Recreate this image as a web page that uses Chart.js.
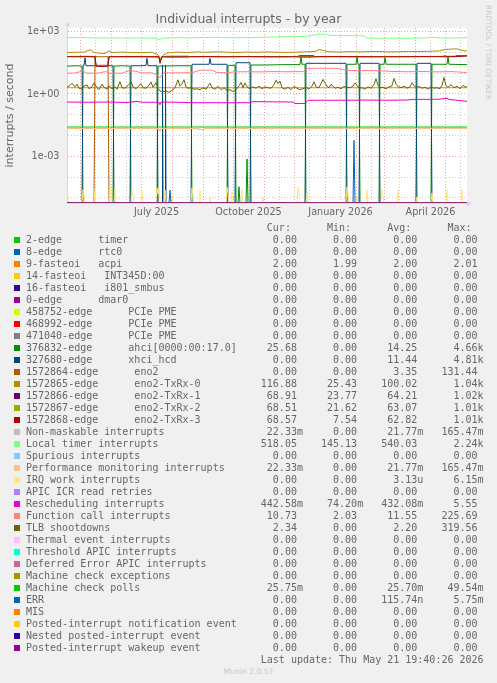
<!DOCTYPE html>
<html>
<head>
<meta charset="utf-8">
<title>Individual interrupts - by year</title>
<script src="https://cdn.jsdelivr.net/npm/chart.js@4.4.1/dist/chart.umd.min.js"></script>
<style>
  body { margin:0; background:#f0f0f0; width:497px; height:683px; overflow:hidden; position:relative; font-family:'DejaVu Sans', sans-serif; color:#666; }
  #title { position:absolute; left:0; top:10px; width:497px; text-align:center; font-size:12.5px; line-height:18px; }
  #chartBox { position:absolute; left:0; top:0; width:497px; height:235px; }
  #rrd { position:absolute; left:484px; top:5px; writing-mode:vertical-rl; font-size:7.4px; line-height:8px; color:#c8c8c8; }
  #legend { position:absolute; left:26px; top:222px; font-family:'DejaVu Sans Mono', monospace; font-size:10px; line-height:12px; white-space:pre; }
  .row { position:relative; height:12px; }
  .sw { position:absolute; left:-12px; top:3px; width:6px; height:6px; }
  #munin { position:absolute; left:0; top:667px; width:497px; text-align:center; font-size:7.6px; line-height:10px; color:#c8c8c8; }
</style>
</head>
<body>
<div id="chartBox"><canvas id="chart" width="497" height="235"></canvas></div>
<div id="title">Individual interrupts - by year</div>
<div id="rrd">RRDTOOL / TOBI OETIKER</div>
<div id="legend"></div>
<div id="munin">Munin 2.0.57</div>
<script>
// x = days since the left edge of the year graph (1 day per pixel), y = interrupts / second
// x axis: month starts (red grid), middle of the month (grey grid), labels
const monthStarts = [13.5, 44.5, 74.5, 105.5, 136.5, 166.5, 197.5, 227.5, 258.5, 289.5, 317.5, 348.5, 378.5];
const midMonths = [28.5, 59.5, 89.5, 120.5, 151.5, 181.5, 212.5, 242.5, 273.5, 304.5, 332.5, 363.5, 393.5];
const xLabelDays = [89.5, 181.5, 273.5, 363.5];
const xLabels = ['July 2025', 'October 2025', 'January 2026', 'April 2026'];

// y axis (log)
const yTickValues = [1e-5, 1e-4, 1e-3, 1e-2, 1e-1, 1, 10, 100, 1000];
const yTickText = ['', '', '1e-03', '', '', '1e+00', '', '', '1e+03'];
const yFloor = 5.6e-6;
const yCeil = 1510;

// series, as [day, value]
const zeroLine = [[0, 0], [400, 0]];
const acpi = [[0, 2.0], [400, 2.0]];
const ahci = [[0, 22], [10, 23], [15, 22], [16, 0], [46, 0], [47, 22], [55, 23], [63, 22], [64, 0], [90, 0], [91, 22], [112, 23], [124, 23], [125, 0], [160, 0], [161, 24], [168, 24], [169, 0], [171, 0], [172, 3.4e-5], [173, 0], [179, 0], [180, 7.4e-4], [181, 0], [183, 0], [184, 25], [200, 25], [220, 26], [233, 26], [234, 62], [235, 27], [238, 27], [239, 0], [279, 0], [280, 27], [289, 27], [290, 62], [291, 27], [292, 27], [293, 0], [312, 0], [313, 27], [317, 27], [318, 56], [319, 27], [349, 27], [350, 0], [364, 0], [365, 27], [380, 27], [381, 63], [382, 27], [400, 26]];
const xhci = [[0, 0], [15, 0], [16, 23], [17, 24], [18, 55], [19, 23], [30, 23], [46, 23], [47, 0], [63, 0], [64, 23], [75, 23], [79, 24], [80, 52], [81, 23], [90, 23], [91, 0], [95, 0], [95.5, 25], [96, 0], [98, 0], [98.5, 25], [99, 0], [124, 0], [125, 27], [142, 27], [143, 52], [144, 27], [160, 27], [161, 0], [168, 0], [169, 32], [183, 32], [184, 0], [238, 0], [239, 30], [260, 30], [279, 30], [280, 0], [292, 0], [293, 30], [312, 30], [313, 0], [349, 0], [350, 30], [364, 30], [365, 0], [400, 0]];
const eno2 = [[0, 0], [27, 0], [28, 63], [35, 62], [41, 63], [42, 0], [400, 0]];
const txrx0 = [[0, 100], [10, 102], [18, 105], [21, 128], [24, 132], [27, 100], [32, 92], [38, 90], [42, 120], [45, 100], [55, 104], [65, 100], [75, 98], [85, 102], [91, 78], [93, 50], [96, 72], [100, 95], [110, 104], [120, 100], [130, 106], [140, 102], [150, 108], [160, 103], [170, 100], [180, 105], [190, 102], [200, 106], [210, 103], [220, 100], [230, 104], [240, 108], [248, 112], [252, 138], [256, 125], [262, 108], [272, 105], [282, 110], [292, 106], [302, 110], [312, 112], [322, 106], [332, 108], [342, 112], [352, 110], [362, 114], [372, 118], [378, 140], [384, 145], [390, 150], [394, 128], [400, 117]];
const txrx1 = [[0, 64], [20, 65], [28, 64], [29, 24], [41, 24], [42, 64], [60, 63], [80, 64], [92, 62], [93, 36], [95, 63], [120, 64], [150, 63], [180, 64], [210, 63], [230, 64], [233, 70], [246, 70], [248, 64], [270, 64], [300, 63], [330, 64], [360, 64], [375, 64], [378, 68], [380, 64], [388, 64], [390, 71], [398, 71], [400, 69]];
const txrx2 = [[0, 63], [28, 63], [29, 23], [41, 23], [42, 63], [70, 62], [92, 62], [93, 35], [95, 62], [100, 67], [120, 67], [122, 63], [160, 63], [200, 62], [240, 63], [280, 62], [320, 63], [360, 63], [400, 68]];
const txrx3 = [[0, 63], [10, 62], [20, 63], [28, 62], [29, 22], [35, 21], [41, 22], [42, 62], [60, 63], [80, 62], [92, 62], [93, 30], [95, 62], [100, 60], [120, 60], [122, 62], [140, 63], [160, 62], [180, 63], [200, 62], [230, 62], [233, 60], [246, 60], [248, 62], [270, 63], [300, 62], [330, 62], [360, 63], [380, 62], [390, 63], [400, 68]];
const nmi = [[0, 0.0218], [92, 0.0218], [93, 0.016], [94, 0.0218], [130, 0.0215], [135, 0.019], [138, 0.0218], [400, 0.0223]];
const localTimer = [[0, 520], [8, 510], [16, 525], [24, 505], [33, 500], [40, 495], [48, 505], [56, 498], [64, 492], [72, 500], [80, 495], [88, 485], [92, 420], [95, 470], [100, 505], [110, 512], [120, 508], [130, 515], [140, 525], [150, 545], [156, 520], [165, 515], [175, 512], [185, 520], [195, 540], [205, 560], [215, 575], [225, 570], [232, 585], [240, 600], [248, 690], [253, 760], [258, 745], [262, 680], [270, 650], [280, 645], [290, 640], [296, 640], [300, 500], [310, 480], [320, 490], [330, 485], [340, 478], [350, 490], [360, 505], [366, 540], [372, 500], [380, 495], [390, 500], [400, 518]];
const perfMon = [[0, 0.0218], [92, 0.0218], [93, 0.016], [94, 0.0218], [130, 0.0215], [135, 0.019], [138, 0.0218], [400, 0.0223]];
const irqWork = [[0, 0], [1, 1.1e-5], [2, 0], [15, 0], [16, 2.4e-5], [17, 1.4e-5], [18, 0], [27, 0], [28, 2.4e-5], [29, 0], [42, 0], [43, 3.3e-5], [44, 1.2e-5], [45, 0], [47, 0], [48, 3e-5], [49, 0], [64, 0], [65, 2.4e-5], [66, 1.3e-5], [67, 0], [74, 0], [75, 2.4e-5], [76, 0], [89, 0], [90, 3e-5], [91, 1.5e-5], [92, 3e-5], [93, 0], [97, 0], [98, 2.4e-5], [99, 0], [104, 0], [105, 1.1e-5], [106, 0], [124, 0], [125, 3e-5], [126, 1.5e-5], [127, 0], [132, 0], [133, 2.4e-5], [134, 0], [142, 0], [143, 1.1e-5], [144, 0], [159, 0], [160, 3.3e-5], [161, 1.6e-5], [162, 0], [164, 0], [165, 1.9e-5], [166, 0], [174, 0], [175, 2.4e-5], [176, 0], [195, 0], [196, 1.1e-5], [197, 0], [230, 0], [231, 3.3e-5], [232, 1.5e-5], [233, 0], [239, 0], [240, 1.7e-5], [241, 0], [279, 0], [280, 3.3e-5], [281, 1.6e-5], [282, 0], [289, 0], [290, 1.1e-5], [291, 0], [299, 0], [300, 2.4e-5], [301, 0], [314, 0], [315, 2.4e-5], [316, 1.2e-5], [317, 0], [330, 0], [331, 2.4e-5], [332, 0], [349, 0], [350, 1.1e-5], [351, 0], [364, 0], [365, 1.7e-5], [366, 0], [379, 0], [380, 2.4e-5], [381, 0], [394, 0], [395, 2.4e-5], [396, 0], [400, 0]];
const resched = [[0, 0.41], [20, 0.4], [40, 0.41], [60, 0.39], [70, 0.44], [75, 0.4], [92, 0.4], [93, 0.3], [94, 0.41], [110, 0.4], [126, 0.38], [150, 0.38], [183, 0.38], [186, 0.43], [200, 0.42], [226, 0.41], [228, 0.35], [238, 0.35], [241, 0.5], [260, 0.5], [280, 0.5], [300, 0.51], [320, 0.5], [340, 0.51], [346, 0.55], [360, 0.55], [372, 0.56], [380, 0.62], [382, 0.55], [400, 0.44]];
const funcCall = [[0, 10], [8, 10.3], [16, 12.8], [19, 10.2], [30, 10], [39, 12], [42, 10.1], [55, 10], [61, 12.9], [70, 12.5], [73, 10.5], [85, 10.4], [90, 8.2], [93, 6], [95, 8.5], [97, 10.5], [110, 10.4], [125, 10.6], [133, 14], [145, 14.2], [150, 10.8], [160, 10.6], [167, 11.6], [180, 11.8], [193, 11.6], [205, 12], [220, 11.8], [236, 12], [240, 17], [255, 17.5], [270, 17], [280, 14], [290, 13.2], [300, 13.5], [315, 13], [326, 12.2], [340, 11.8], [355, 12.2], [370, 11.6], [385, 12], [400, 10.7]];
const tlb = [[0, 2.1], [3, 2.6], [5, 3.3], [8, 2.2], [10, 3.0], [12, 1.9], [15, 1.7], [17, 2.4], [20, 2.7], [22, 1.8], [25, 2.2], [27, 3.4], [30, 2.0], [32, 1.6], [35, 3.0], [37, 2.1], [40, 1.7], [42, 2.5], [45, 1.8], [48, 2.2], [50, 1.7], [53, 3.9], [55, 2.0], [58, 1.9], [62, 2.9], [64, 4.0], [66, 2.2], [69, 1.8], [72, 2.5], [74, 3.1], [76, 2.0], [79, 1.9], [82, 2.6], [84, 3.8], [86, 2.1], [89, 3.5], [91, 1.8], [93, 1.4], [96, 1.3], [99, 1.4], [102, 1.2], [105, 1.5], [108, 2.0], [111, 4.8], [113, 2.4], [115, 3.0], [117, 4.9], [119, 2.2], [121, 1.9], [124, 2.0], [127, 1.7], [130, 1.8], [133, 1.6], [136, 2.0], [139, 1.7], [141, 2.4], [143, 3.3], [145, 2.0], [148, 1.7], [151, 2.3], [154, 1.6], [157, 2.0], [160, 1.5], [163, 1.6], [166, 1.3], [169, 1.6], [172, 2.5], [174, 3.6], [176, 2.0], [178, 3.4], [180, 2.2], [183, 1.8], [186, 2.2], [189, 1.9], [192, 2.4], [195, 1.8], [198, 2.2], [201, 2.0], [204, 1.9], [207, 2.8], [209, 4.6], [211, 3.2], [213, 4.2], [215, 2.0], [218, 1.7], [221, 2.1], [224, 1.6], [227, 2.3], [230, 1.9], [233, 1.6], [236, 1.8], [239, 2.1], [242, 1.7], [245, 2.4], [247, 3.9], [249, 2.2], [252, 2.0], [254, 3.2], [256, 5.0], [258, 3.4], [260, 2.4], [262, 2.0], [264, 2.9], [266, 2.4], [268, 1.9], [271, 2.1], [274, 1.8], [277, 2.3], [280, 2.1], [283, 2.0], [286, 2.4], [288, 3.4], [290, 2.6], [292, 1.9], [295, 2.0], [298, 1.7], [301, 2.2], [304, 1.9], [307, 2.8], [309, 5.5], [311, 2.6], [313, 2.0], [316, 2.1], [319, 1.8], [322, 2.2], [325, 2.5], [327, 5.6], [329, 3.0], [331, 2.3], [334, 2.0], [337, 2.4], [340, 1.9], [343, 2.2], [345, 3.5], [347, 2.6], [349, 2.0], [352, 2.3], [355, 1.9], [358, 2.1], [361, 1.7], [364, 2.2], [367, 1.9], [370, 2.0], [373, 1.8], [375, 2.6], [377, 6.3], [379, 2.5], [381, 2.1], [384, 2.8], [387, 2.0], [390, 2.4], [393, 1.8], [396, 2.6], [399, 2.1], [400, 2.3]];
const mcPolls = [[0, 0.0257], [400, 0.0257]];
const errIrq = [[0, 0], [102, 0], [103, 2.3e-5], [104, 0], [286, 0], [287, 5.75e-3], [288, 0], [400, 0]];

const seriesNames = ['2-edge      timer', '8-edge      rtc0', '9-fasteoi   acpi', '14-fasteoi   INT345D:00', '16-fasteoi   i801_smbus', '0-edge      dmar0', '458752-edge      PCIe PME', '468992-edge      PCIe PME', '471040-edge      PCIe PME', '376832-edge      ahci[0000:00:17.0]', '327680-edge      xhci_hcd', '1572864-edge      eno2', '1572865-edge      eno2-TxRx-0', '1572866-edge      eno2-TxRx-1', '1572867-edge      eno2-TxRx-2', '1572868-edge      eno2-TxRx-3', 'Non-maskable interrupts', 'Local timer interrupts', 'Spurious interrupts', 'Performance monitoring interrupts', 'IRQ work interrupts', 'APIC ICR read retries', 'Rescheduling interrupts', 'Function call interrupts', 'TLB shootdowns', 'Thermal event interrupts', 'Threshold APIC interrupts', 'Deferred Error APIC interrupts', 'Machine check exceptions', 'Machine check polls', 'ERR', 'MIS', 'Posted-interrupt notification event', 'Nested posted-interrupt event', 'Posted-interrupt wakeup event'];
const seriesData = [zeroLine, zeroLine, acpi, zeroLine, zeroLine, zeroLine, zeroLine, zeroLine, zeroLine, ahci, xhci, eno2, txrx0, txrx1, txrx2, txrx3, nmi, localTimer, zeroLine, perfMon, irqWork, zeroLine, resched, funcCall, tlb, zeroLine, zeroLine, zeroLine, zeroLine, mcPolls, errIrq, zeroLine, zeroLine, zeroLine, zeroLine];
const curVals = ['0.00', '0.00', '2.00', '0.00', '0.00', '0.00', '0.00', '0.00', '0.00', '25.68', '0.00', '0.00', '116.88', '68.91', '68.51', '68.57', '22.33m', '518.05', '0.00', '22.33m', '0.00', '0.00', '442.58m', '10.73', '2.34', '0.00', '0.00', '0.00', '0.00', '25.75m', '0.00', '0.00', '0.00', '0.00', '0.00'];
const minVals = ['0.00', '0.00', '1.99', '0.00', '0.00', '0.00', '0.00', '0.00', '0.00', '0.00', '0.00', '0.00', '25.43', '23.77', '21.62', '7.54', '0.00', '145.13', '0.00', '0.00', '0.00', '0.00', '74.20m', '2.03', '0.00', '0.00', '0.00', '0.00', '0.00', '0.00', '0.00', '0.00', '0.00', '0.00', '0.00'];
const avgVals = ['0.00', '0.00', '2.00', '0.00', '0.00', '0.00', '0.00', '0.00', '0.00', '14.25', '11.44', '3.35', '100.02', '64.21', '63.07', '62.82', '21.77m', '540.03', '0.00', '21.77m', '3.13u', '0.00', '432.08m', '11.55', '2.20', '0.00', '0.00', '0.00', '0.00', '25.70m', '115.74n', '0.00', '0.00', '0.00', '0.00'];
const maxVals = ['0.00', '0.00', '2.01', '0.00', '0.00', '0.00', '0.00', '0.00', '0.00', '4.66k', '4.81k', '131.44', '1.04k', '1.02k', '1.01k', '1.01k', '165.47m', '2.24k', '0.00', '165.47m', '6.15m', '0.00', '5.55', '225.69', '319.56', '0.00', '0.00', '0.00', '0.00', '49.54m', '5.75m', '0.00', '0.00', '0.00', '0.00'];

// munin default palette
const seriesColors = ['#00CC00', '#0066B3', '#FF8000', '#FFCC00', '#330099', '#990099', '#CCFF00', '#FF0000', '#808080', '#008F00', '#00487D', '#B35A00', '#B38F00', '#6B006B', '#8FB300', '#B30000', '#BEBEBE', '#80FF80', '#80C9FF', '#FFC080', '#FFE680', '#AA80FF', '#EE00CC', '#FF8080', '#666600', '#FFBFFF', '#00FFCC', '#CC6699', '#999900', '#00CC00', '#0066B3', '#FF8000', '#FFCC00', '#330099', '#990099'];

const majorGrid = '#eca0a0';
const minorGrid = '#cbcbcb';
const axisColor = '#CFD6F8';

// legend table (rrdtool style, monospace)
function field(s) {
  var unit = ' ';
  if (/[a-z]$/i.test(s)) {
    unit = s.slice(-1);
    s = s.slice(0, -1);
  }
  return s.padStart(9) + unit;
}

var legend = document.getElementById('legend');
function addRow(text, color) {
  var row = document.createElement('div');
  row.className = 'row';
  row.textContent = text;
  if (color) {
    var sw = document.createElement('span');
    sw.className = 'sw';
    sw.style.background = color;
    row.appendChild(sw);
  }
  legend.appendChild(row);
}
addRow(' '.repeat(40) + 'Cur:      Min:      Avg:      Max:');
for (var i = 0; i < seriesNames.length; i++) {
  addRow(seriesNames[i].padEnd(36) + field(curVals[i]) + field(minVals[i]) + field(avgVals[i]) + field(maxVals[i]), seriesColors[i]);
}
addRow(' '.repeat(39) + 'Last update: Thu May 21 19:40:26 2026');

// rrdtool puts zero values of a log graph on the floor of the axis
var datasets = seriesData.map(function (pts, i) {
  return {
    label: seriesNames[i],
    data: pts.map(function (p) { return { x: p[0], y: p[1] > 0 ? p[1] : yFloor }; }),
    borderColor: seriesColors[i],
    borderWidth: 1,
    pointRadius: 0,
    tension: 0,
    fill: false,
    clip: 0,
    order: seriesData.length - i
  };
});

var plotDecor = {
  id: 'plotDecor',
  beforeDraw: function (chart) {
    var a = chart.chartArea, ctx = chart.ctx;
    ctx.save();
    ctx.fillStyle = '#ffffff';
    ctx.fillRect(a.left, a.top, a.right - a.left, a.bottom - a.top);
    ctx.restore();
  },
  afterDraw: function (chart) {
    var a = chart.chartArea, ctx = chart.ctx;
    ctx.save();
    ctx.strokeStyle = axisColor;
    ctx.fillStyle = axisColor;
    ctx.lineWidth = 1;
    ctx.beginPath();
    ctx.moveTo(a.left + 0.5, a.top);
    ctx.lineTo(a.left + 0.5, a.top - 3);
    ctx.stroke();
    ctx.beginPath();
    ctx.moveTo(a.left - 2, a.top - 2);
    ctx.lineTo(a.left + 3, a.top - 2);
    ctx.lineTo(a.left + 0.5, a.top - 6.5);
    ctx.fill();
    ctx.beginPath();
    ctx.moveTo(a.right, a.bottom - 2);
    ctx.lineTo(a.right, a.bottom + 3);
    ctx.lineTo(a.right + 5, a.bottom + 0.5);
    ctx.fill();
    ctx.restore();
  }
};

Chart.defaults.font.family = "'DejaVu Sans', sans-serif";
Chart.defaults.color = '#666';

new Chart(document.getElementById('chart'), {
  type: 'line',
  data: { datasets: datasets },
  plugins: [plotDecor],
  options: {
    responsive: false,
    animation: false,
    events: [],
    layout: { padding: { top: 28, right: 30, bottom: 0, left: 0 } },
    plugins: { legend: { display: false }, tooltip: { enabled: false }, title: { display: false } },
    scales: {
      x: {
        type: 'linear',
        min: 0,
        max: 400,
        bounds: 'data',
        afterBuildTicks: function (scale) {
          scale.ticks = monthStarts.concat(midMonths).sort(function (a, b) { return a - b; })
            .map(function (v) { return { value: v }; });
        },
        afterFit: function (scale) { scale.height = 32; },
        grid: {
          drawTicks: false,
          lineWidth: 1,
          color: function (ctx) {
            return ctx.tick && monthStarts.indexOf(ctx.tick.value) >= 0 ? majorGrid : minorGrid;
          }
        },
        border: { display: true, color: axisColor, width: 1, dash: [1, 2] },
        ticks: {
          autoSkip: false,
          maxRotation: 0,
          padding: 4,
          font: { size: 9.7 },
          callback: function (value) {
            var k = xLabelDays.indexOf(value);
            return k >= 0 ? xLabels[k] : '';
          }
        }
      },
      y: {
        type: 'logarithmic',
        min: yFloor,
        max: yCeil,
        bounds: 'data',
        afterBuildTicks: function (scale) {
          scale.ticks = yTickValues.map(function (v) { return { value: v }; });
        },
        afterFit: function (scale) { scale.width = 67; },
        grid: {
          drawTicks: false,
          lineWidth: 1,
          color: function (ctx) {
            return yTickText[ctx.index] ? majorGrid : minorGrid;
          }
        },
        border: { display: true, color: axisColor, width: 1, dash: [1, 2] },
        title: { display: true, text: 'interrupts / second', font: { size: 11 }, padding: { top: 3.5, bottom: 0 } },
        ticks: {
          autoSkip: false,
          padding: 7.5,
          font: { size: 9.7 },
          callback: function (value, index) { return yTickText[index]; }
        }
      }
    }
  }
});
</script>
</body>
</html>
